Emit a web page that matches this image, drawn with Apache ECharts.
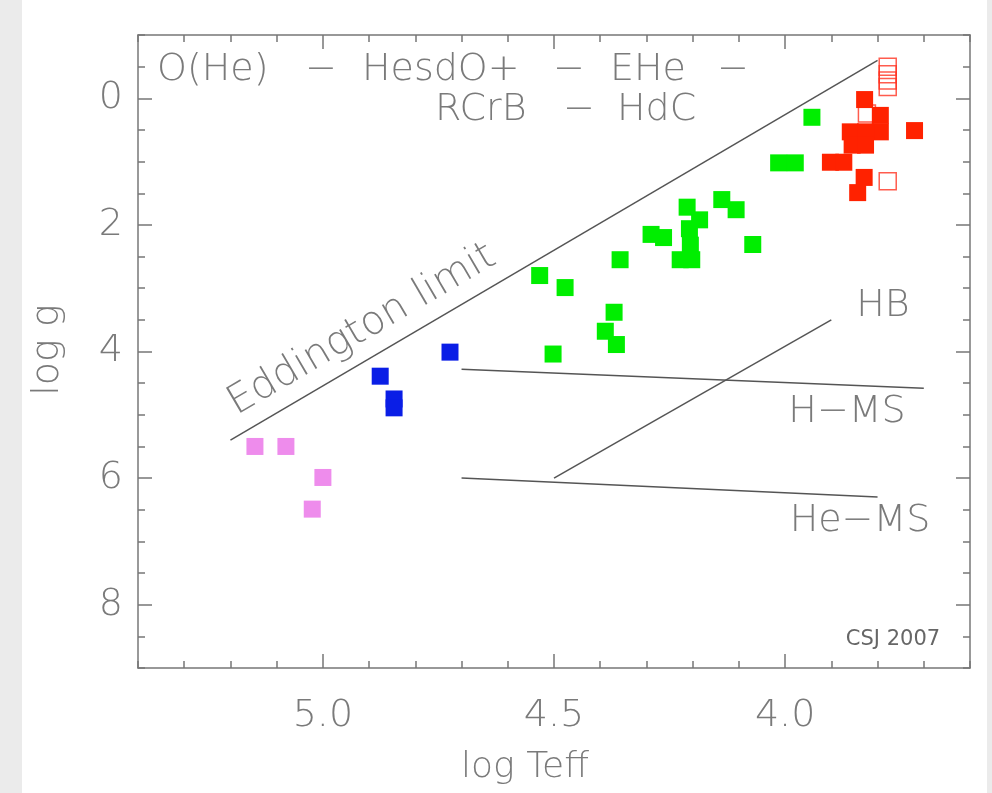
<!DOCTYPE html>
<html>
<head>
<meta charset="utf-8">
<script src="https://cdn.jsdelivr.net/npm/echarts@6/dist/echarts.min.js"></script>
<style>
  html, body { margin: 0; padding: 0; background: #ebebeb; }
  #wrap { position: relative; width: 992px; height: 793px; }
  #paper { position: absolute; left: 22px; top: 0; width: 965px; height: 793px; background: #ffffff; }
  #chart { position: absolute; left: 0; top: 0; width: 992px; height: 793px; }
</style>
</head>
<body>
<div id="wrap"><div id="paper"></div><div id="chart"></div></div>
<script>
// ---- data (log Teff, log g) ----
const violetX = [5.147, 5.080, 5.000, 5.023];
const violetY = [5.50, 5.50, 5.99, 6.49];

const blueX = [4.876, 4.846, 4.846, 4.725];
const blueY = [4.39, 4.75, 4.89, 4.01];

const greenX = [4.531, 4.476, 4.357, 4.370, 4.389, 4.365, 4.502, 4.290, 4.263, 4.212, 4.185,
                4.207, 4.205, 4.227, 4.202, 4.137, 4.106, 4.070, 3.942, 4.014, 3.978];
const greenY = [2.80, 2.99, 2.55, 3.38, 3.68, 3.89, 4.04, 2.15, 2.20, 1.72, 1.92,
                2.06, 2.32, 2.55, 2.55, 1.60, 1.76, 2.31, 0.30, 1.02, 1.02];

const redX = [3.828, 3.794, 3.794, 3.859, 3.826, 3.855, 3.826, 3.902, 3.873, 3.720, 3.829, 3.843];
const redY = [0.02, 0.27, 0.53, 0.53, 0.53, 0.74, 0.74, 1.01, 1.01, 0.51, 1.25, 1.49];

const openRedX = [3.778, 3.778, 3.778, 3.778, 3.778, 3.823];
const openRedY = [-0.50, -0.38, -0.28, -0.18, 1.31, 0.24];

// reference lines
const eddingtonX = [5.2, 3.8];
const eddingtonY = [5.4, -0.6];
const hmsX = [4.7, 3.7];
const hmsY = [4.28, 4.58];
const hemsX = [4.7, 3.8];
const hemsY = [6.0, 6.3];
const hbX = [4.5, 3.9];
const hbY = [6.0, 3.5];

// axes
const xMajorTicks = [4.0, 4.5, 5.0];
const yMajorTicks = [0, 2, 4, 6, 8];

// title pieces: [text, left x, top y]
const titleLine1 = [['O(He)', 157, 51], ['\u2212', 305, 51], ['HesdO+', 362, 51], ['\u2212', 553, 51], ['EHe', 610, 51], ['\u2212', 717, 51]];
const titleLine2 = [['RCrB', 435, 91], ['\u2212', 563, 91], ['HdC', 617, 91]];

const zip = (xs, ys) => xs.map((x, i) => [x, ys[i]]);

const FONT = 'DejaVu Sans';
const FW = 200;
const TXT = '#7a7a7a';
const AX = '#777777';

const chart = echarts.init(document.getElementById('chart'), null, { renderer: 'canvas' });

function xAxisDef(pos, major, labels) {
  return {
    type: 'value', position: pos, min: 3.6, max: 5.4, inverse: true,
    interval: 0.1,
    axisLine: { show: !major, onZero: false, lineStyle: { color: AX, width: 1.5 } },
    axisTick: major
      ? { show: true, inside: true, length: 14, customValues: xMajorTicks, lineStyle: { color: AX, width: 1.5 } }
      : { show: true, inside: true, length: 7, lineStyle: { color: AX, width: 1.5 } },
    axisLabel: labels
      ? { show: true, customValues: xMajorTicks, margin: 29, formatter: v => v.toFixed(1),
          fontFamily: FONT, fontWeight: FW, fontSize: 38, color: TXT }
      : { show: false },
    splitLine: { show: false }
  };
}
function yAxisDef(pos, major, labels) {
  return {
    type: 'value', position: pos, min: -1, max: 9, inverse: true,
    interval: 0.5,
    axisLine: { show: !major, onZero: false, lineStyle: { color: AX, width: 1.5 } },
    axisTick: major
      ? { show: true, inside: true, length: 14, customValues: yMajorTicks, lineStyle: { color: AX, width: 1.5 } }
      : { show: true, inside: true, length: 7, lineStyle: { color: AX, width: 1.5 } },
    axisLabel: labels
      ? { show: true, customValues: yMajorTicks, margin: 15, formatter: v => String(v),
          fontFamily: FONT, fontWeight: FW, fontSize: 38, color: TXT }
      : { show: false },
    splitLine: { show: false }
  };
}

function lineSeries(xs, ys) {
  return {
    type: 'line', data: zip(xs, ys), symbol: 'none', silent: true,
    lineStyle: { color: '#555555', width: 1.5 }, z: 1
  };
}
function pointSeries(xs, ys, color) {
  return {
    type: 'scatter', data: zip(xs, ys), symbol: 'rect', symbolSize: 17,
    itemStyle: { color: color, opacity: 1 }, z: 3
  };
}

const txt = (t, x, y, extra) => Object.assign({
  type: 'text', x: x, y: y,
  style: Object.assign({ text: t, fontFamily: FONT, fontWeight: FW, fontSize: 38, fill: TXT }, extra || {})
});

const titleGraphics = titleLine1.concat(titleLine2).map(p => txt(p[0], p[1], p[2], { align: 'left', verticalAlign: 'top' }));

const option = {
  animation: false,
  backgroundColor: 'transparent',
  grid: { left: 138, right: 22, top: 35, bottom: 125 },
  xAxis: [
    xAxisDef('bottom', false, false),
    xAxisDef('bottom', true, true),
    xAxisDef('top', false, false),
    xAxisDef('top', true, false)
  ],
  yAxis: [
    yAxisDef('left', false, false),
    yAxisDef('left', true, true),
    yAxisDef('right', false, false),
    yAxisDef('right', true, false)
  ],
  series: [
    lineSeries(eddingtonX, eddingtonY),
    lineSeries(hmsX, hmsY),
    lineSeries(hemsX, hemsY),
    lineSeries(hbX, hbY),
    {
      type: 'scatter', data: zip(openRedX, openRedY), symbol: 'rect', symbolSize: 17,
      itemStyle: { color: 'rgba(255,255,255,0)', borderColor: '#ff3322', borderWidth: 1.5 }, z: 2
    },
    pointSeries(violetX, violetY, '#ee8cec'),
    pointSeries(blueX, blueY, '#0a1ee6'),
    pointSeries(greenX, greenY, '#00ee00'),
    pointSeries(redX, redY, '#ff2200')
  ],
  graphic: titleGraphics.concat([
    Object.assign(txt('Eddington limit', 362, 330, { align: 'center', verticalAlign: 'middle', fontSize: 40 }),
      { rotation: 30.3 * Math.PI / 180 }),
    txt('HB', 883, 306, { align: 'center', verticalAlign: 'middle' }),
    txt('H\u2212MS', 847, 412, { align: 'center', verticalAlign: 'middle' }),
    txt('He\u2212MS', 860, 521, { align: 'center', verticalAlign: 'middle' }),
    txt('CSJ 2007', 893, 640, { align: 'center', verticalAlign: 'middle', fontSize: 21, fontWeight: 'normal', fill: '#666666' }),
    txt('log Teff', 525, 768, { align: 'center', verticalAlign: 'middle', fontSize: 36 }),
    Object.assign(txt('log g', 48, 350, { align: 'center', verticalAlign: 'middle' }),
      { rotation: Math.PI / 2 })
  ])
};
chart.setOption(option);
</script>
</body>
</html>
